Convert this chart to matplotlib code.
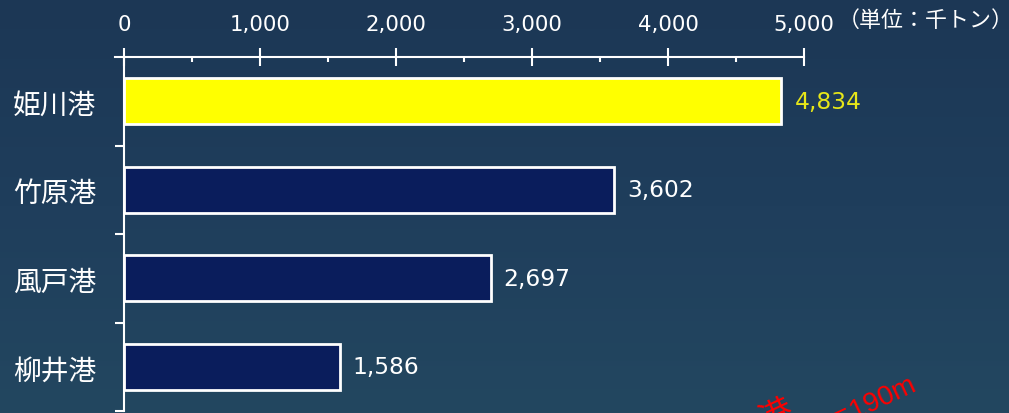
import matplotlib
matplotlib.use("Agg")
import matplotlib.pyplot as plt
import numpy as np
from matplotlib.ticker import MultipleLocator, FuncFormatter
from matplotlib.colors import LinearSegmentedColormap

plt.rcParams['font.family'] = ['Noto Sans CJK JP', 'DejaVu Sans']

ports = ["姫川港", "竹原港", "風戸港", "柳井港"]
values = [4834, 3602, 2697, 1586]
bar_colors = ["#ffff00", "#0a1d5c", "#0a1d5c", "#0a1d5c"]
label_colors = ["#e6e619", "white", "white", "white"]
xticks = [0, 1000, 2000, 3000, 4000, 5000]
unit_text = "（単位：千トン）"
note_head = "港"
note_tail = "＝190m"

W, H = 1009, 414
fig = plt.figure(figsize=(W/100, H/100), dpi=100, facecolor="#1f3d5b")

# background gradient
bgax = fig.add_axes([0, 0, 1, 1], zorder=-10)
grad = np.linspace(0, 1, 256).reshape(-1, 1)
cmap = LinearSegmentedColormap.from_list("bg", ["#1c3755", "#1f3e5c", "#234760"])
bgax.imshow(grad, aspect="auto", cmap=cmap, extent=[0, 1, 0, 1], origin="upper")
bgax.axis("off")

ax = fig.add_axes([124/W, 1 - 412/H, (804-124)/W, (412-58)/H])
ax.patch.set_alpha(0)

ypos = list(range(len(ports)))
ax.barh(ypos, values, height=0.52, color=bar_colors, edgecolor="white", linewidth=2)
ax.set_ylim(len(ports) - 0.5, -0.5)
ax.set_xlim(0, 5000)

# x axis on top
ax.xaxis.set_ticks_position("top")
ax.set_xticks(xticks)
ax.xaxis.set_major_formatter(FuncFormatter(lambda v, p: f"{int(v):,}"))
ax.xaxis.set_minor_locator(MultipleLocator(500))
for lab in ax.get_xticklabels():
    lab.set_fontfamily("DejaVu Sans")
ax.tick_params(axis="x", which="major", direction="inout", length=13, width=1.5,
               colors="white", labelsize=15.3, pad=10.3)
ax.tick_params(axis="x", which="minor", direction="in", length=3.6, width=1.5, colors="white")
ax.plot([-9/680, 0], [1, 1], transform=ax.transAxes, color="white", lw=1.5, clip_on=False)

# y axis: ticks at boundaries, labels at centres
ax.set_yticks([i + 0.5 for i in ypos])
ax.set_yticklabels([])
ax.set_yticks(ypos, minor=True)
ax.set_yticklabels(ports, minor=True)
ax.tick_params(axis="y", which="major", direction="out", length=6.5, width=1.5, colors="white")
ax.tick_params(axis="y", which="minor", length=0, pad=20, labelsize=20, labelcolor="white")

for s in ["right", "bottom"]:
    ax.spines[s].set_visible(False)
for s in ["top", "left"]:
    ax.spines[s].set_color("white")
    ax.spines[s].set_linewidth(1.5)

for y, v, c in zip(ypos, values, label_colors):
    ax.text(v + 95, y, f"{v:,}", va="center", ha="left", color=c, fontsize=16.8,
            family="DejaVu Sans")

fig.text(838/W, 1 - 21/H, unit_text, ha="left", va="center", color="white", fontsize=15.8)

note_family = ["Liberation Sans", "Noto Sans CJK JP"]
fig.text(917/W, 1 - 389/H, note_tail, ha="right", va="baseline", color="red",
         fontsize=20, rotation=25, rotation_mode="anchor", family=note_family)
fig.text(786/W, 1 - 395/H, note_head, ha="right", va="top", color="red",
         fontsize=24, rotation=25, rotation_mode="anchor", family=note_family)

fig.savefig("out.png", dpi=100, facecolor=fig.get_facecolor())
